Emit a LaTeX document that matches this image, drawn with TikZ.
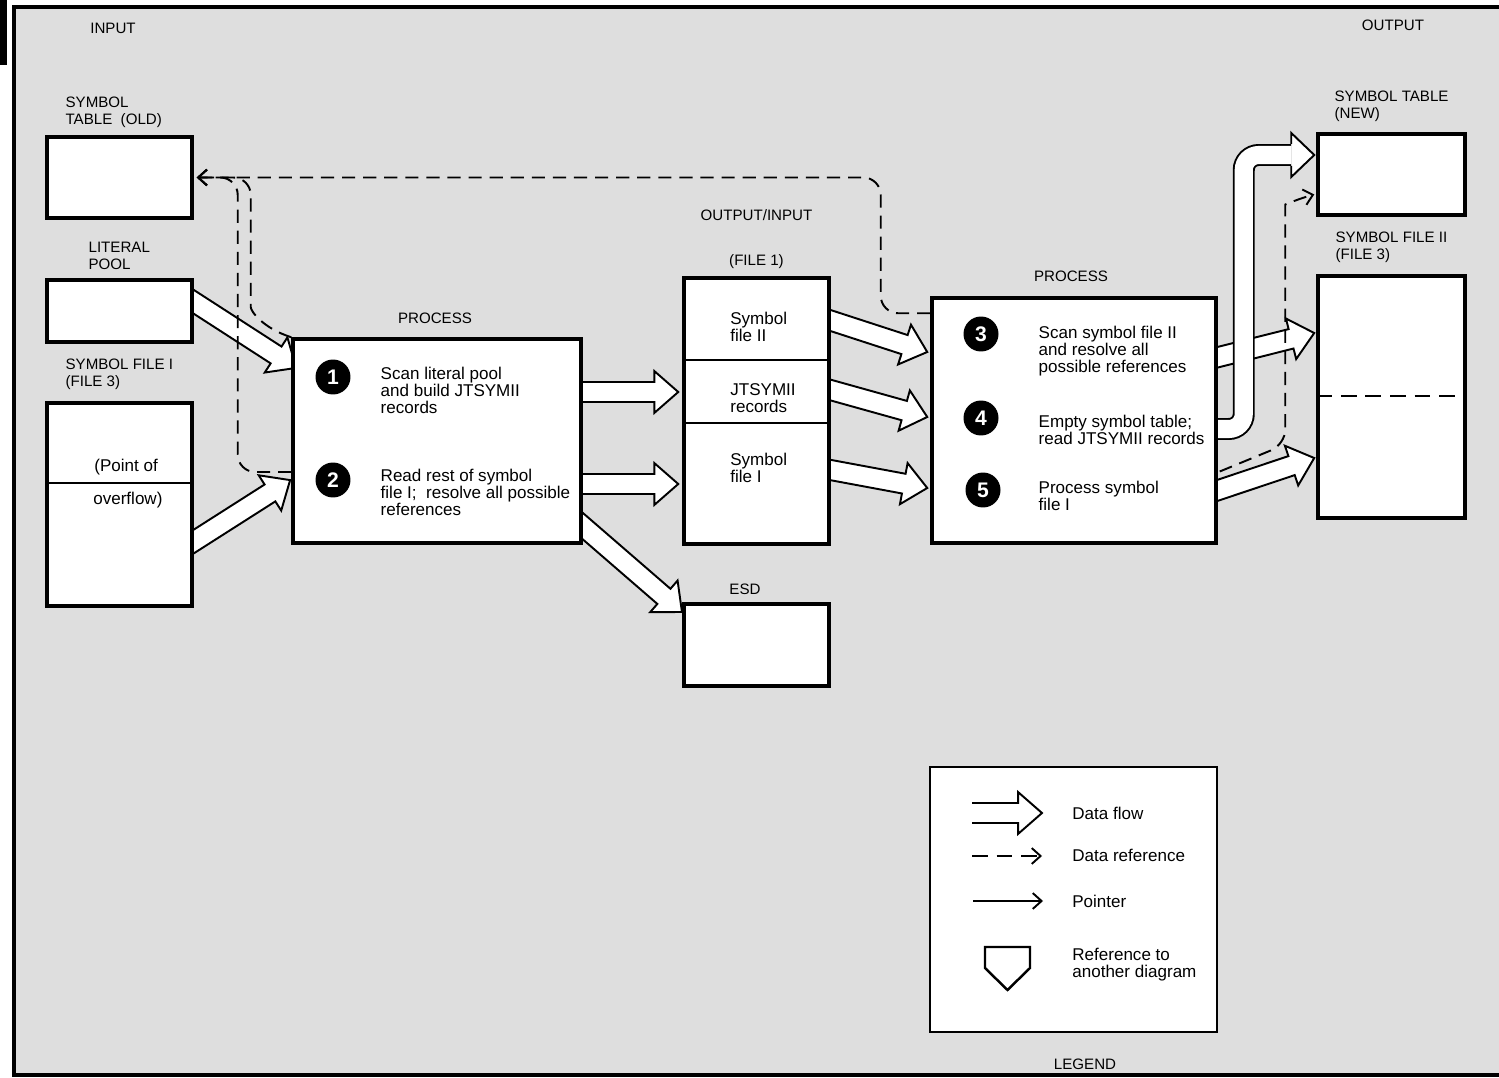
\documentclass[tikz,border=0pt]{standalone}
\usepackage{fontspec}
\setmainfont{Liberation Sans}
\usetikzlibrary{arrows.meta,positioning,calc}
\pgfdeclarelayer{back}
\pgfdeclarelayer{flows}
\pgfsetlayers{back,flows,main}
\tikzset{
  frame/.style={line width=2.8pt},
  databox/.style={rectangle, draw=black, line width=2pt, fill=white},
  proc/.style={databox},
  caps/.style={font=\fontsize{8.6}{9.64}\selectfont, align=left, inner sep=0pt},
  body/.style={font=\fontsize{9.7}{9.64}\selectfont, align=left, inner sep=0pt},
  stepnum/.style={circle, fill=black, text=white, minimum size=0.7cm, inner sep=0pt, font=\fontsize{12}{12}\selectfont\bfseries},
  flow/.style={draw=black, fill=white, line width=1.1pt, line join=miter},
  flowbent/.style={draw=black, line width=1.1pt, double=white, double distance=10.3pt, rounded corners=0.3cm},
  dref/.style={line width=1.1pt, dash pattern=on 7.5pt off 4.5pt, -{Straight Barb[length=5pt,width=9pt]}},
  ptr/.style={line width=1.1pt, -{Straight Barb[length=5pt,width=9pt]}},
  divider/.style={line width=1pt},
}
% hollow data-flow arrow from #1 to #2
\newcommand{\flowarr}[2]{%
  \path[flow] let \p1=($(#2)-(#1)$), \n1={atan2(\y1,\x1)}, \n2={veclen(\x1,\y1)} in
    [shift={(#1)}, rotate=\n1]
    (0pt,5.7pt) -- ({\n2*1pt-13.6pt},5.7pt) -- ({\n2*1pt-13.6pt},11.9pt) -- ({\n2*1pt},0pt)
    -- ({\n2*1pt-13.6pt},-11.9pt) -- ({\n2*1pt-13.6pt},-5.7pt) -- (0pt,-5.7pt);}

\begin{document}
\begin{tikzpicture}[x=0.02cm, y=-0.02cm]
\useasboundingbox (0,0) rectangle (1499,1078);
\begin{pgfonlayer}{back}
\fill[black!13] (14,7) rectangle (1499,1075);
\fill (0,0) rectangle (7,65);
\draw[frame] (1499,7) -- (14,7) -- (14,1075) -- (1499,1075);
\end{pgfonlayer}

% boxes
\node[databox, minimum width=2.9cm, minimum height=1.62cm] (oldtab) at (119.5,177.5) {};
\node[databox, minimum width=2.9cm, minimum height=1.24cm] (litpool) at (119.5,311) {};
\node[databox, minimum width=2.9cm, minimum height=4.06cm] (symf1) at (119.5,504.5) {};
\node[proc, minimum width=5.76cm, minimum height=4.08cm] (proc1) at (437,441) {};
\node[databox, minimum width=2.9cm, minimum height=5.32cm] (file1) at (756.5,411) {};
\node[databox, minimum width=2.9cm, minimum height=1.64cm] (esd) at (756.5,645) {};
\node[proc, minimum width=5.68cm, minimum height=4.9cm] (proc2) at (1074,420.5) {};
\node[databox, minimum width=2.94cm, minimum height=1.62cm] (newtab) at (1391.5,174.5) {};
\node[databox, minimum width=2.94cm, minimum height=4.84cm] (symf2) at (1391.5,397) {};
\node[databox, line width=1.6pt, minimum width=5.74cm, minimum height=5.3cm] (legend) at (1073.5,899.5) {};

\draw[divider] ($(symf1.west)+(0,-21.5)$) -- ($(symf1.east)+(0,-21.5)$);
\draw[divider] ($(file1.west)+(0,-51)$) -- ($(file1.east)+(0,-51)$);
\draw[divider] ($(file1.west)+(0,12)$) -- ($(file1.east)+(0,12)$);
\draw[divider, dash pattern=on 9pt off 5pt] ($(symf2.west)+(0,-1)$) -- ($(symf2.east)+(0,-1)$);

% captions
\node[caps] (inlbl) at (113,28) {INPUT};
\node[caps] (outlbl) at (1393,25) {OUTPUT};
\node[caps, above right=0.14cm and 0.4cm of oldtab.north west] (oldcap) {SYMBOL\\TABLE~~(OLD)};
\node[caps, above right=0.16cm and 0.86cm of litpool.north west] (litcap) {LITERAL\\POOL};
\node[caps, above right=0.22cm and 0.4cm of symf1.north west] (sf1cap) {SYMBOL FILE I\\(FILE 3)};
\node[body, anchor=west] (pt1) at (94,467) {(Point of};
\node[body, anchor=west] (pt2) at (93,500) {overflow)};
\node[caps, above=0.26cm of proc1, xshift=-0.04cm] (p1cap) {PROCESS};
\node[caps, above=0.14cm of file1] (f1cap) {(FILE 1)};
\node[caps, above=0.66cm of f1cap] (oicap) {OUTPUT/INPUT};
\node[caps, above=0.14cm of esd, xshift=-0.23cm] (esdcap) {ESD};
\node[caps, above=0.28cm of proc2, xshift=-0.06cm] (p2cap) {PROCESS};
\node[caps, above right=0.2cm and 0.36cm of newtab.north west] (ntcap) {SYMBOL TABLE\\(NEW)};
\node[caps, above right=0.22cm and 0.38cm of symf2.north west] (sf2cap) {SYMBOL FILE II\\(FILE 3)};
\node[caps, below=0.5cm of legend, xshift=0.23cm] (lgcap) {LEGEND};

% file 1 contents
\node[body, anchor=west] (fa) at (730,326.5) {Symbol\\file II};
\node[body, anchor=west] (fb) at (730,398) {JTSYMII\\records};
\node[body, anchor=west] (fc) at (730,467.5) {Symbol\\file I};

% steps
\node[stepnum] (s1) at (333,377) {1};
\node[body, right=0.59cm of s1, yshift=-0.26cm] (t1) {Scan literal pool\\and build JTSYMII\\records};
\node[stepnum] (s2) at (333,480) {2};
\node[body, right=0.59cm of s2, yshift=-0.24cm] (t2) {Read rest of symbol\\file I;~ resolve all possible\\references};
\node[stepnum] (s3) at (981,334) {3};
\node[body, right=0.79cm of s3, yshift=-0.34cm] (t3) {Scan symbol file II\\and resolve all\\possible references};
\node[stepnum] (s4) at (981,418) {4};
\node[body, right=0.79cm of s4, yshift=-0.23cm] (t4) {Empty symbol table;\\read JTSYMII records};
\node[stepnum] (s5) at (983,490) {5};
\node[body, right=0.75cm of s5, yshift=-0.11cm] (t5) {Process symbol\\file I};

% data flow
\coordinate (f1s) at ($(litpool.east)+(-9,-15)$);
\coordinate (f1e) at ($(proc1.west)+(5,-73)$);
\coordinate (f2s) at ($(symf1.east)+(-7,41.5)$);
\coordinate (f2e) at ($(proc1.west)+(-1,39)$);
\coordinate (f3s) at ($(proc1.east)+(-11,-49)$);
\coordinate (f3e) at ($(file1.west)+(-4,-19)$);
\coordinate (f4s) at ($(proc1.east)+(-11,43)$);
\coordinate (f4e) at ($(file1.west)+(-4,73)$);
\coordinate (f5s) at ($(proc1.east)+(-7,79)$);
\coordinate (f5e) at ($(esd.north west)+(0,10)$);
\coordinate (f6s) at ($(file1.east)+(-11,-94)$);
\coordinate (f6e) at ($(proc2.west)+(-3,-68.5)$);
\coordinate (f7s) at ($(file1.east)+(-11,-24)$);
\coordinate (f7e) at ($(proc2.west)+(-3,-3.5)$);
\coordinate (f8s) at ($(file1.east)+(-11,57)$);
\coordinate (f8e) at ($(proc2.west)+(-3,67.5)$);
\coordinate (f9s) at ($(proc2.east)+(-11,-60.5)$);
\coordinate (f9e) at ($(symf2.west)+(-2,-64)$);
\coordinate (f10s) at ($(proc2.east)+(-11,73.5)$);
\coordinate (f10e) at ($(symf2.west)+(-2,61)$);
\coordinate (b0) at ($(proc2.east)+(-11,8.5)$);
\coordinate (b1) at ($(newtab.west)+(-25,-19.5)$);
\coordinate (b2) at ($(newtab.west)+(-2,-19.5)$);
\coordinate (lg1a) at (972,813);
\coordinate (lg1b) at (1042,813);
\begin{pgfonlayer}{flows}
\flowarr{f1s}{f1e}
\flowarr{f2s}{f2e}
\flowarr{f3s}{f3e}
\flowarr{f4s}{f4e}
\flowarr{f5s}{f5e}
\flowarr{f6s}{f6e}
\flowarr{f7s}{f7e}
\flowarr{f8s}{f8e}
\flowarr{f9s}{f9e}
\flowarr{f10s}{f10e}
\draw[flowbent] (b0) -| ($(b1)+(-47.5,0)$) -- (b1);
\path[flow] ($(b1)+(0,-11)$) -- ($(b1)+(0,-22)$) -- (b2) -- ($(b1)+(0,22)$) -- ($(b1)+(0,11)$);
\end{pgfonlayer}

% data references
\coordinate (r1s) at ($(proc2.north west)+(0,17)$);
\coordinate (r1e) at ($(oldtab.east)+(3,0)$);
\draw[dref, rounded corners=0.35cm] (r1s) -| ($(r1e)+(684,0)$) -- (r1e);
\draw[dref, rounded corners=0.35cm] ($(proc1.west)+(0,31)$) -| ($(r1e)+(41,0)$) -- (r1e);
\draw[dref, rounded corners=0.35cm] (proc1.north west) .. controls +(-28,-9) and +(0,22) .. ($(r1e)+(54,112)$) |- (r1e);
\coordinate (r4s) at ($(proc2.east)+(2,51)$);
\coordinate (r4e) at ($(newtab.west)+(-2,20)$);
\draw[dref, rounded corners=0.3cm] (r4s) -- ($(r4e)+(-29,250)$) -- ($(r4e)+(-29,25)$) to[out=90,in=195] (r4e);

% legend
\flowarr{lg1a}{lg1b}
\node[body, anchor=west] (lgt1) at (1072,813) {Data flow};
\coordinate (lg2a) at (972,856);
\coordinate (lg2b) at (1042,856);
\draw[dref, dash pattern=on 9pt off 5pt] (lg2a) -- (lg2b);
\node[body, anchor=west] (lgt2) at (1072,855) {Data reference};
\coordinate (lg3a) at (973,901);
\coordinate (lg3b) at (1043,901);
\draw[ptr] (lg3a) -- (lg3b);
\node[body, anchor=west] (lgt3) at (1072,901) {Pointer};
\draw[line width=1.4pt, line join=miter] (985,947) -- (1030,947) -- (1030,968) -- (1007.5,990) -- (985,968) -- cycle;
\node[body, anchor=west] (lgt4) at (1072,964.5) {Reference to\\another diagram};
\end{tikzpicture}
\end{document}
